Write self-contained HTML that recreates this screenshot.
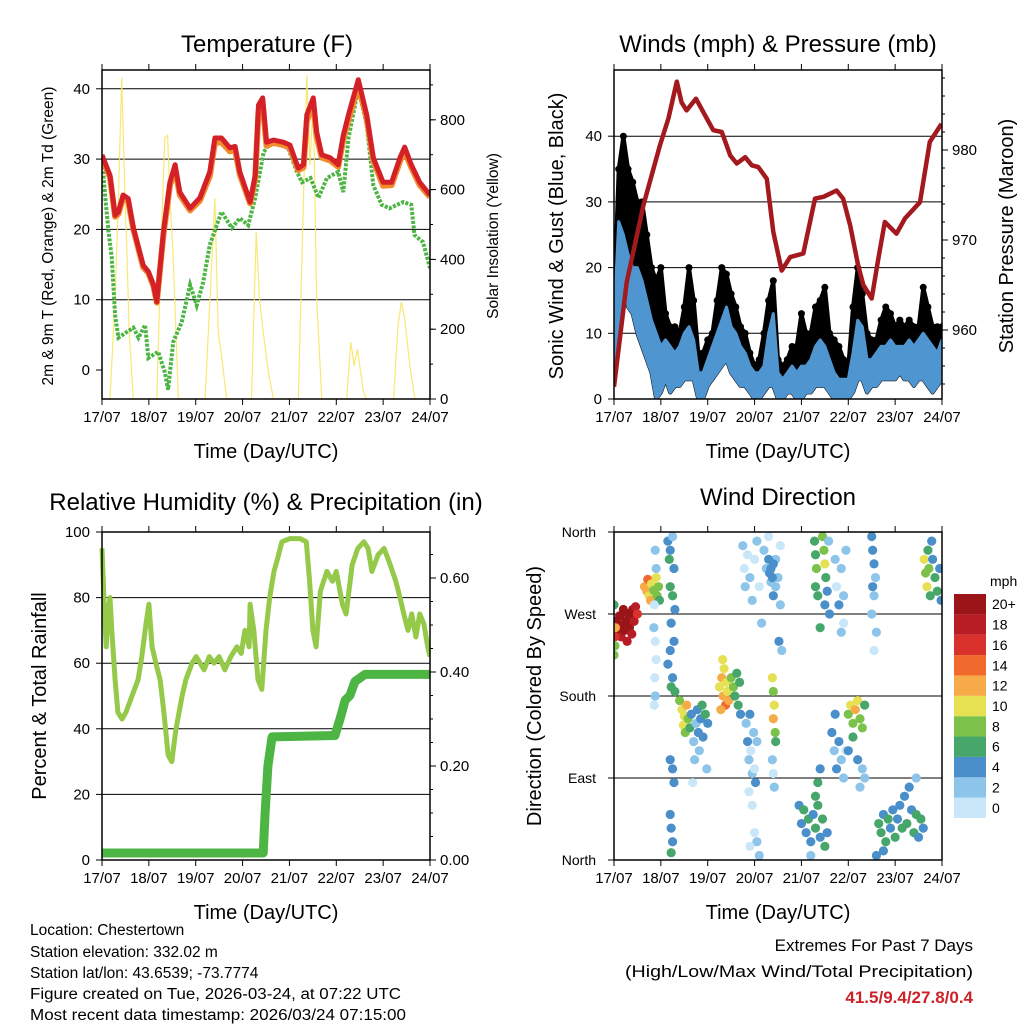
<!DOCTYPE html>
<html><head><meta charset="utf-8"><style>
html,body{margin:0;padding:0;background:#fff;}
svg text{font-family:"Liberation Sans",sans-serif;fill:#000;}
</style></head><body>
<svg id="fig" width="1024" height="1024" viewBox="0 0 1024 1024" xmlns="http://www.w3.org/2000/svg">
<g id="p1"></g>
<g id="p2"></g>
<g id="p3"></g>
<g id="p4"></g>
<g font-size="15.5">
<text x="30" y="935">Location: Chestertown</text>
<text x="30" y="957">Station elevation: 332.02 m</text>
<text x="30" y="978">Station lat/lon: 43.6539; -73.7774</text>
<text x="30" y="999" textLength="371" lengthAdjust="spacingAndGlyphs">Figure created on Tue, 2026-03-24, at 07:22 UTC</text>
<text x="30" y="1020" textLength="376" lengthAdjust="spacingAndGlyphs">Most recent data timestamp: 2026/03/24 07:15:00</text>
</g>
<g text-anchor="end" font-size="17">
<text x="973" y="951">Extremes For Past 7 Days</text>
<text x="973" y="977" textLength="348" lengthAdjust="spacingAndGlyphs">(High/Low/Max Wind/Total Precipitation)</text>
<text x="973" y="1003" font-weight="bold" style="fill:#cc2229">41.5/9.4/27.8/0.4</text>
</g>
</svg>
<script>
const days=["17/07","18/07","19/07","20/07","21/07","22/07","23/07","24/07"];
// Temperature
const tempT=[0,.17,.28,.35,.45,.56,.67,.88,.99,1.1,1.17,1.31,1.45,1.56,1.66,1.88,2.09,2.3,2.41,2.55,2.73,2.84,2.94,3.16,3.27,3.34,3.43,3.51,3.66,3.87,4.01,4.19,4.3,4.37,4.51,4.58,4.69,4.87,5.04,5.15,5.26,5.47,5.65,5.79,6.0,6.18,6.36,6.46,6.6,6.78,7.0];
const temp2m=[30.6,27.7,22,22.5,24.9,24.4,20.2,14.9,14,12.1,9.7,19.6,26.7,29.2,25.3,23,24.5,28.2,33,33,31.6,31.8,28.2,23.9,27.7,37.7,38.7,32.4,32.7,32.4,32,28.7,29.2,36.3,38.7,33.9,30.6,30.2,29.2,33.4,36.3,41.3,36.3,30.2,26.7,26.7,30.2,31.7,29.2,26.7,24.9];
const temp9m=[30.2,27.4,21.8,22.2,24.5,24.0,20.0,14.6,13.8,11.9,9.6,19.2,26.2,28.6,24.9,22.7,24.1,27.6,32.3,32.4,31.1,31.3,27.8,23.7,27.3,36.8,37.8,31.9,32.3,32.0,31.6,28.4,28.8,35.4,37.9,33.3,30.2,29.8,28.9,32.8,35.6,40.5,35.8,29.8,26.2,26.3,29.7,31.1,28.8,26.3,24.6];
const dewT=[0,.07,.14,.21,.28,.35,.53,.67,.78,.92,.99,1.2,1.34,1.41,1.52,1.7,1.88,2.02,2.16,2.3,2.55,2.77,2.94,3.12,3.27,3.45,3.59,3.95,4.16,4.27,4.45,4.62,4.8,5.04,5.15,5.26,5.47,5.65,5.79,5.97,6.14,6.43,6.6,6.67,6.85,7.0];
const dewPt=[30.2,24.5,19.6,15.9,7.8,4.6,5.4,6,4.6,6.4,1.7,2.6,-0.3,-2.8,4,6.8,12.1,9.2,12.5,17.8,22.5,20.2,21.6,20.6,24.5,31,32.3,32,28.2,26.7,27.3,24.5,27.3,28.2,25.3,33,40.1,34.9,26.3,23.5,23,23.9,23.5,19.2,18.2,14.5];
const solarT=[0,.17,.28,.35,.42,.49,.53,.58,.67,1.17,1.27,1.34,1.4,1.45,1.51,1.63,2.2,2.34,2.41,2.48,2.55,2.66,3.19,3.29,3.36,3.44,3.55,3.66,4.19,4.3,4.37,4.44,4.51,4.58,4.69,5.22,5.31,5.38,5.45,5.58,5.65,6.22,6.32,6.39,6.46,6.57,6.68,7];
const solarW=[0,0,290,575,920,575,433,190,0,0,478,748,756,575,433,0,0,384,575,192,126,0,0,478,290,192,77,0,0,575,928,670,862,290,0,0,163,95,143,19,0,0,212,278,230,95,0,0];
const tempTicks=[0,10,20,30,40];
const solarTicks=[0,200,400,600,800];
// Winds
const windT=[0,.1,.2,.3,.4,.5,.6,.7,.8,.9,1,1.1,1.2,1.3,1.4,1.5,1.6,1.7,1.8,1.9,2,2.1,2.2,2.3,2.4,2.5,2.6,2.7,2.8,2.9,3,3.1,3.2,3.3,3.4,3.5,3.6,3.7,3.8,3.9,4,4.1,4.2,4.3,4.4,4.5,4.6,4.7,4.8,4.9,5,5.1,5.2,5.3,5.4,5.5,5.6,5.7,5.8,5.9,6,6.1,6.2,6.3,6.4,6.5,6.6,6.7,6.8,6.9,7];
const windLo=[5,12,18,14,13,10,8,6,4,0,1,3,1,2,2,3,3,3,0,0,2,3,4,5,6,4,3,2,2,1,0,0,1,2,2,0,0,1,1,0,0,1,1,2,2,2,1,0,0,0,0,1,3,3,1,2,2,3,3,3,3,4,3,3,2,3,3,2,1,2,3];
const windHi=[12,27,25,22,20,20,18,15,12,10,8,9,8,7,8,10,11,9,4,4,6,8,10,12,14,11,10,8,7,5,4,4,5,10,13,4,3,4,5,4,5,5,6,8,9,8,6,4,3,3,3,7,12,11,6,6,7,8,8,9,8,8,8,9,8,9,10,9,8,7,9];
const gustHi=[15,35,40,35,33,30,30,25,20,18,20,13,11,11,10,14,20,15,7,7,9,10,15,20,19,16,14,11,10,7,5,6,10,15,18,6,5,6,8,8,13,10,10,14,15,17,10,9,8,6,5,14,20,16,10,9,9,12,14,13,11,12,11,12,11,11,17,14,11,11,11];
const presT=[0,.27,.63,.98,1.16,1.34,1.44,1.55,1.75,1.98,2.12,2.3,2.48,2.62,2.8,2.94,3.08,3.26,3.4,3.58,3.76,4.04,4.29,4.47,4.75,4.89,5.04,5.21,5.32,5.5,5.64,5.78,6.03,6.21,6.53,6.74,6.99];
const presMb=[953.7,965.3,973.9,980.5,983.5,987.6,985.3,984.4,985.7,983.5,982.2,982,979.4,978.5,979.2,978.3,978.1,976.8,970.9,966.6,968.1,968.5,974.6,974.8,975.5,974.6,971.6,967.2,965,963.5,967.9,972,970.7,972.4,974.2,980.9,982.9];
const windTicks=[0,10,20,30,40];
const presTicks=[960,970,980];
// RH & precip
const rhT=[0,.04,.09,.13,.17,.21,.28,.34,.43,.51,.64,.77,.85,.94,1,1.07,1.15,1.24,1.32,1.41,1.49,1.58,1.71,1.79,1.92,2.01,2.18,2.29,2.39,2.5,2.62,2.75,2.88,2.97,3.05,3.14,3.16,3.24,3.33,3.41,3.5,3.58,3.67,3.75,3.84,4.01,4.23,4.36,4.43,4.5,4.57,4.66,4.8,4.92,5.0,5.13,5.21,5.34,5.46,5.59,5.68,5.76,5.89,6.02,6.15,6.27,6.36,6.44,6.53,6.61,6.7,6.78,6.87,6.95,7];
const rhPct=[95,80,65,75,80,70,55,45,43,45,50,55,62,72,78,65,60,55,45,32,30,40,50,55,60,62,58,62,60,62,58,62,65,63,70,65,78,70,55,52,70,80,88,92,97,98,98,97,85,70,65,82,88,85,88,78,75,90,95,97,95,88,93,95,90,85,80,75,70,75,68,75,72,65,62];
const rainT=[0,3.44,3.48,3.54,3.63,4.97,5.08,5.19,5.29,5.4,5.61,7];
const rainIn=[.015,.015,.1,.2,.262,.265,.3,.34,.35,.38,.395,.395];
const rhTicks=[0,20,40,60,80,100];
const rainTicks=[0,.2,.4,.6];
// Wind direction scatter
const dirT=[0.05,0.1,0.12,0.15,0.18,0.2,0.22,0.25,0.28,0.3,0.33,0.35,0.38,0.4,0.43,0.46,0.5,0.02,0.03,0.02,0,0,
0.65,0.7,0.72,0.75,0.78,0.8,0.85,0.9,0.92,0.95,0.97,
0.88,0.9,0.86,0.85,0.88,0.9,0.87,0.88,0.86,
1.15,1.2,1.18,1.25,1.28,1.2,1.25,1.3,1.22,1.28,1.2,1.15,1.25,1.22,1.3,1.2,1.25,1.28,1.2,1.22,1.25,1.22,
1.4,1.45,1.5,1.48,1.55,1.52,1.58,1.62,1.65,1.7,1.72,1.75,1.78,1.8,1.82,1.85,1.88,1.9,1.95,1.98,2,1.68,
2.25,2.3,2.33,2.35,2.38,2.4,2.42,2.45,2.5,2.55,2.58,2.62,2.65,2.68,2.7,2.28,2.32,
2.82,2.85,2.88,2.9,2.92,2.95,2.98,3,3.02,3.05,2.88,2.95,3,3.05,2.9,3.1,
3.38,3.4,3.42,3.4,3.44,3.45,3.38,3.4,3.42,
2.75,2.78,2.8,2.85,2.9,2.95,3,3.05,3.1,3.15,3.2,3.25,3.3,3.35,3.4,3.45,3.5,3.55,3.55,3.58,3.52,3.3,3.35,3.4,3.32,3.38,3.45,
4.28,4.3,4.32,4.3,4.35,4.45,4.48,4.5,4.52,4.55,4.5,4.58,4.4,4.6,
4.72,4.75,4.8,4.85,4.9,4.95,4.9,4.85,
5.5,5.52,5.55,5.58,5.52,5.55,5.5,5.6,5.55,
4.65,4.7,4.72,4.75,4.8,4.85,4.9,4.95,5,5.05,5.1,5.15,5.2,5.25,5.3,5.35,5.1,5,5.2,5.3,5.35,5.25,
3.95,4,4.05,4.1,4.15,4.2,4.25,4.3,4.35,4.4,4.45,4.5,4.55,4.3,4.35,4.4,4.2,
5.65,5.7,5.75,5.8,5.85,5.9,5.95,6,6.05,6.1,6.15,6.2,6.25,6.3,6.35,6.4,6.45,6.5,6.55,6.6,6.45,5.6,5.75,
6.62,6.65,6.68,6.7,6.72,6.75,6.78,6.8,6.85,6.9,6.95,6.98];
const dirDeg=[262,250,268,245,258,275,252,262,240,270,255,265,248,275,262,278,270,245,255,235,280,225,
300,295,308,290,285,303,296,310,290,300,285,
340,320,280,255,240,220,200,180,170,
350,340,330,355,320,300,290,275,260,240,230,215,200,190,185,110,100,85,50,35,20,8,
175,165,158,148,170,140,155,145,160,130,110,150,165,140,120,155,170,135,160,100,150,85,
190,200,180,210,170,195,185,175,200,190,180,205,170,195,160,165,220,
150,130,110,160,120,95,140,100,85,130,75,60,30,20,15,5,
200,185,170,155,140,130,110,95,80,
345,320,300,335,310,285,330,350,300,260,340,320,355,305,290,330,310,345,280,230,240,330,320,325,315,310,300,
350,335,320,300,290,355,340,325,310,295,280,350,255,270,
330,300,280,320,290,340,260,250,
355,340,325,310,300,290,270,250,230,
140,120,160,100,130,110,90,120,160,170,150,165,175,155,145,170,135,120,110,100,90,80,
60,40,55,30,45,20,50,35,60,25,45,15,30,70,85,100,5,
40,30,50,20,45,35,55,25,45,60,35,70,40,80,55,30,50,25,45,35,90,5,10,
330,315,300,340,320,290,350,330,310,295,320,285];
const dirSpd=[20,21,22,19,21,20,22,21,19,22,21,20,19,21,18,19,17,16,13,9,7,8,
13,12,14,11,13,10,9,10,8,9,7,
3,2,1,2,1,1,1,2,0,
4,5,6,3,4,7,7,4,5,4,5,4,5,6,7,4,5,5,4,5,4,7,
9,10,11,10,12,9,8,7,5,3,2,3,5,4,3,5,6,4,7,2,5,1,
11,13,12,10,14,11,10,12,9,8,7,7,6,7,5,12,10,
3,4,2,4,1,3,2,1,4,2,1,0,1,2,0,3,
10,9,11,12,9,7,3,1,2,
2,1,2,1,2,3,1,2,1,2,3,2,1,3,4,2,3,1,2,2,4,4,4,4,4,5,3,
7,6,8,7,6,9,8,10,7,5,4,3,6,4,
2,1,4,3,2,3,1,2,
4,5,4,3,4,2,2,3,1,
4,3,5,4,5,3,2,1,9,11,8,12,10,9,8,7,6,4,5,3,2,3,
5,4,6,5,6,4,5,7,6,5,7,6,5,7,6,5,3,
6,7,5,6,7,5,4,6,5,4,6,5,6,4,5,6,7,4,6,5,3,4,5,
10,9,11,6,8,7,4,5,7,6,4,5];
const speedBins=["0","2","4","6","8","10","12","14","16","18","20+"];
const dirLabels=["North","East","South","West","North"];

const NS="http://www.w3.org/2000/svg";
function mk(parent,tag,attrs,txt){const e=document.createElementNS(NS,tag);for(const k in attrs)e.setAttribute(k,attrs[k]);if(txt!==undefined)e.textContent=txt;parent.appendChild(e);return e;}
const binColors=["#c9e7f8","#8cc4ea","#4a8fca","#47a66a","#7cc24a","#e6e053","#f6aa48","#ef6a2c","#d9312b","#b81c24","#9a1418"];

function frame(g,x0,y0,x1,y1){
  const r=mk(g,'rect',{x:x0,y:y0,width:x1-x0,height:y1-y0,fill:'none',stroke:'#000','stroke-width':1.5});
  
  
}
function xAxis(g,x0,x1,y0,y1){
  const w=(x1-x0)/7;
  days.forEach((d,i)=>{
    const x=x0+i*w;
    mk(g,'line',{x1:x,x2:x,y1:y1,y2:y1+6,stroke:'#000','stroke-width':1});
    mk(g,'line',{x1:x,x2:x,y1:y0,y2:y0-6,stroke:'#000','stroke-width':1});
    const t=mk(g,'text',{x:x,y:y1+23,'text-anchor':'middle','font-size':15},d);
    
    
  });
  const tt=mk(g,'text',{x:(x0+x1)/2,y:y1+59,'text-anchor':'middle','font-size':20},'Time (Day/UTC)');
  
  
}
function yTitle(g,x,y,txt,sz,name){
  const t=mk(g,'text',{x:0,y:0,transform:`translate(${x},${y}) rotate(-90)`,'text-anchor':'middle','font-size':sz},txt);
  
  
}
function title(g,x,y,txt,name){
  const t=mk(g,'text',{x:x,y:y,'text-anchor':'middle','font-size':24},txt);
  
  
}
function leftTicks(g,ticks,sy,x0,fmt,grid,x1){
  ticks.forEach(v=>{const y=sy(v);
    mk(g,'line',{x1:x0-6,x2:x0,y1:y,y2:y,stroke:'#000'});
    if(grid&&v!==ticks[0]) mk(g,'line',{x1:x0,x2:x1,y1:y,y2:y,stroke:'#000','stroke-width':1});
    const t=mk(g,'text',{x:x0-12,y:y+5,'text-anchor':'end','font-size':15},fmt(v));
    
    
  });
}
function rightTicks(g,ticks,sy,x1,fmt,minor){
  ticks.forEach(v=>{const y=sy(v);
    mk(g,'line',{x1:x1,x2:x1+6,y1:y,y2:y,stroke:'#000'});
    const t=mk(g,'text',{x:x1+10,y:y+5,'font-size':15},fmt(v));
    
    
  });
  minor.forEach(v=>{const y=sy(v);mk(g,'line',{x1:x1,x2:x1+3,y1:y,y2:y,stroke:'#000'});});
}
function path(ts,vs,sx,sy){return ts.map((t,i)=>(i?'L':'M')+sx(t).toFixed(1)+','+sy(vs[i]).toFixed(1)).join('');}

// ---- Panel 1 ----
(function(){
  const g=document.getElementById('p1');
  const x0=102,x1=430,y0=70,y1=399;
  const sx=t=>x0+t*(x1-x0)/7, sy=v=>370-v*7.03, ss=v=>399-v*0.349;
  mk(g,'defs',{}).innerHTML=`<clipPath id="c1"><rect x="${x0}" y="${y0}" width="${x1-x0}" height="${y1-y0}"/></clipPath>`;
  leftTicks(g,tempTicks,sy,x0,v=>String(v),true,x1);
  const m=[];for(let v=100;v<=900;v+=100)m.push(v);
  rightTicks(g,solarTicks,ss,x1,v=>String(v),m);
  const c=mk(g,'g',{'clip-path':'url(#c1)'});
  const s=mk(c,'path',{d:path(solarT,solarW,sx,ss),fill:'none',stroke:'#f7e45a','stroke-width':1.2,opacity:.85});
  
  
  const d=mk(c,'path',{d:path(dewT,dewPt,sx,sy),fill:'none',stroke:'#4cb544','stroke-width':4,'stroke-dasharray':'3 1.5'});
  
  
  const o=mk(c,'path',{d:path(tempT,temp9m,sx,sy),fill:'none',stroke:'#f28a2e','stroke-width':6,'stroke-linejoin':'round'});
  
  
  const r=mk(c,'path',{d:path(tempT,temp2m,sx,sy),fill:'none',stroke:'#d42027','stroke-width':5,'stroke-linejoin':'round'});
  
  
  frame(g,x0,y0,x1,y1);xAxis(g,x0,x1,y0,y1);
  title(g,267,52,'Temperature (F)','temperature-title');
  yTitle(g,53,236,'2m & 9m T (Red, Orange) & 2m Td (Green)',15.5,'temperature-y-title');
  yTitle(g,498,236,'Solar Insolation (Yellow)',15.5,'solar-y-title');
})();

// ---- Panel 2 ----
(function(){
  const g=document.getElementById('p2');
  const x0=614,x1=942,y0=70,y1=399;
  const sx=t=>x0+t*(x1-x0)/7, sy=v=>399-v*6.57, sp=v=>330-(v-960)*9;
  mk(g,'defs',{}).innerHTML=`<clipPath id="c2"><rect x="${x0}" y="${y0}" width="${x1-x0}" height="${y1-y0}"/></clipPath>`;
  leftTicks(g,windTicks,sy,x0,v=>String(v),true,x1);
  const m=[];for(let v=954;v<=988;v+=2)m.push(v);
  rightTicks(g,presTicks,sp,x1,v=>String(v),m);
  const c=mk(g,'g',{'clip-path':'url(#c2)'});
  const gb=windT.map((t,i)=>(i?'L':'M')+sx(t).toFixed(1)+','+sy(gustHi[i]).toFixed(1)).join('')+
    windT.slice().reverse().map((t,j)=>{const i=windT.length-1-j;return 'L'+sx(t).toFixed(1)+','+sy(windLo[i]).toFixed(1);}).join('')+'Z';
  const gp=mk(c,'path',{d:gb,fill:'#000',stroke:'#000','stroke-width':4,'stroke-linejoin':'round'});
  
  
  windT.forEach((t,i)=>{
    const dot=mk(c,'circle',{cx:sx(t),cy:sy(gustHi[i]),r:3.5,fill:'#000'});
    
    
  });
  const wb=windT.map((t,i)=>(i?'L':'M')+sx(t).toFixed(1)+','+sy(windHi[i]).toFixed(1)).join('')+
    windT.slice().reverse().map((t,j)=>{const i=windT.length-1-j;return 'L'+sx(t).toFixed(1)+','+sy(windLo[i]).toFixed(1);}).join('')+'Z';
  const wp=mk(c,'path',{d:wb,fill:'#4f95d0',stroke:'#4f95d0','stroke-width':3,'stroke-linejoin':'round'});
  
  
  const p=mk(c,'path',{d:path(presT,presMb,sx,sp),fill:'none',stroke:'#a3191e','stroke-width':4.5,'stroke-linejoin':'round'});
  
  
  frame(g,x0,y0,x1,y1);xAxis(g,x0,x1,y0,y1);
  title(g,778,52,'Winds (mph) & Pressure (mb)','winds-title');
  yTitle(g,563,236,'Sonic Wind & Gust (Blue, Black)',20,'wind-y-title');
  yTitle(g,1013,236,'Station Pressure (Maroon)',20,'pressure-y-title');
})();

// ---- Panel 3 ----
(function(){
  const g=document.getElementById('p3');
  const x0=102,x1=430,y0=532,y1=860;
  const sx=t=>x0+t*(x1-x0)/7, sy=v=>860-v*3.28, sr=v=>860-v*470;
  mk(g,'defs',{}).innerHTML=`<clipPath id="c3"><rect x="${x0-6}" y="${y0}" width="${x1-x0+6}" height="${y1-y0+6}"/></clipPath>`;
  leftTicks(g,rhTicks,sy,x0,v=>String(v),true,x1);
  const m=[];for(let v=.05;v<.7;v+=.05)m.push(v);
  rightTicks(g,rainTicks,sr,x1,v=>v.toFixed(2),m);
  const c=mk(g,'g',{'clip-path':'url(#c3)'});
  const rh=mk(c,'path',{d:path(rhT,rhPct,sx,sy),fill:'none',stroke:'#95c94a','stroke-width':5,'stroke-linejoin':'round'});
  
  
  const pr=mk(c,'path',{d:path(rainT,rainIn,sx,sr),fill:'none',stroke:'#4cb544','stroke-width':9,'stroke-linejoin':'round'});
  
  
  frame(g,x0,y0,x1,y1);xAxis(g,x0,x1,y0,y1);
  title(g,266,510,'Relative Humidity (%) & Precipitation (in)','humidity-title');
  yTitle(g,46,696,'Percent & Total Rainfall',20,'humidity-y-title');
})();

// ---- Panel 4 ----
(function(){
  const g=document.getElementById('p4');
  const x0=614,x1=942,y0=532,y1=860;
  const sx=t=>x0+t*(x1-x0)/7, sy=v=>860-v*328/360;
  mk(g,'defs',{}).innerHTML=`<clipPath id="c4"><rect x="${x0}" y="${y0}" width="${x1-x0}" height="${y1-y0}"/></clipPath>`;
  dirLabels.forEach((lab,i)=>{const y=sy(i*90);
    mk(g,'line',{x1:x0-6,x2:x0,y1:y,y2:y,stroke:'#000'});
    if(i>0&&i<4)mk(g,'line',{x1:x0,x2:x1,y1:y,y2:y,stroke:'#000'});
    const t=mk(g,'text',{x:x0-18,y:y+5,'text-anchor':'end','font-size':14},lab);
    
    
  });
  const c=mk(g,'g',{'clip-path':'url(#c4)'});
  dirT.forEach((t,i)=>{
    const b=Math.min(10,Math.floor(dirSpd[i]/2));
    const dot=mk(c,'circle',{cx:sx(t),cy:sy(dirDeg[i]),r:4.6,fill:binColors[b]});
    
    
  });
  frame(g,x0,y0,x1,y1);xAxis(g,x0,x1,y0,y1);
  title(g,778,505,'Wind Direction','wind-direction-title');
  yTitle(g,541,696,'Direction (Colored By Speed)',20,'direction-y-title');
  const cb=mk(g,'g',{});
  
  
  const h=224/11;
  speedBins.forEach((lab,i)=>{
    const y=818-(i+1)*h;
    mk(cb,'rect',{x:954,y:y,width:32,height:h,fill:binColors[i]});
    const t=mk(cb,'text',{x:992,y:y+h/2+5,'font-size':14},lab);
    
    
  });
  const u=mk(cb,'text',{x:990,y:586,'font-size':14},'mph');
  
  
})();
</script>
</body></html>
